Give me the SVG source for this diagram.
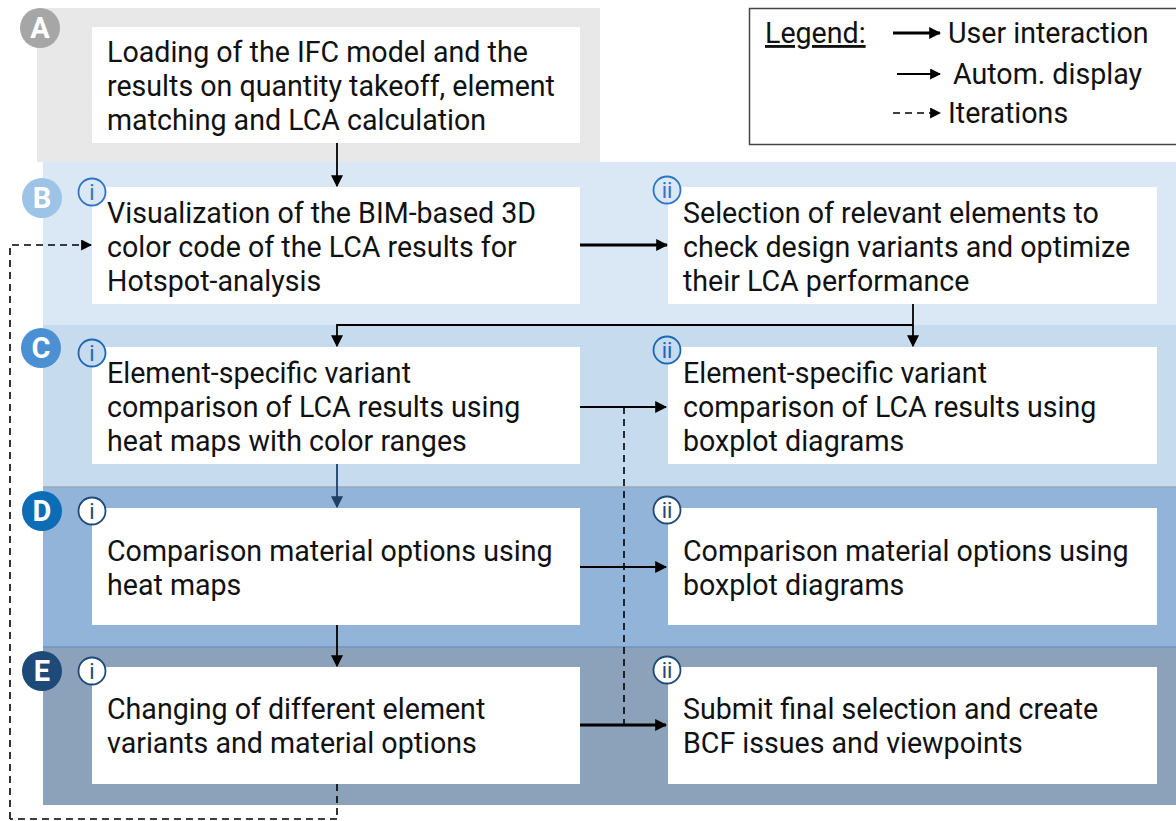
<svg xmlns="http://www.w3.org/2000/svg" width="1176" height="821" viewBox="0 0 1176 821">
<defs>
<style>
.t{font-family:Roboto,"Liberation Sans",sans-serif;font-size:28.6px;fill:#111}
.box{fill:#fff}
.lbl{font-family:Roboto,"Liberation Sans",sans-serif;font-size:29px;font-weight:bold;fill:#fff;text-anchor:middle}
.ic{font-family:Roboto,"Liberation Sans",sans-serif;font-size:22px;text-anchor:middle}
.thick{stroke:#000;stroke-width:3;fill:none}
.thin{stroke:#000;stroke-width:1.8;fill:none}
.dash{stroke:#000;stroke-width:1.6;fill:none;stroke-dasharray:7,5}
</style>
<marker id="ah" viewBox="0 0 10 10" refX="9" refY="5" markerWidth="12" markerHeight="12" markerUnits="userSpaceOnUse" orient="auto"><path d="M0,0L10,5L0,10z" fill="#000"/></marker>
<marker id="ahs" viewBox="0 0 10 10" refX="9" refY="5" markerWidth="11" markerHeight="11" markerUnits="userSpaceOnUse" orient="auto"><path d="M0,0L10,5L0,10z" fill="#000"/></marker>
<marker id="ahn" viewBox="0 0 10 10" refX="9" refY="5" markerWidth="12" markerHeight="12" markerUnits="userSpaceOnUse" orient="auto"><path d="M0,0L10,5L0,10z" fill="#1f3f66"/></marker>
</defs>
<rect width="1176" height="821" fill="#fff"/>

<g id="bands">
<rect x="37" y="8" width="563" height="154" fill="#e8e8e8"/>
<rect x="43" y="162" width="1133" height="163" fill="#dae7f5"/>
<rect x="43" y="325" width="1133" height="162" fill="#c7dbee"/>
<rect x="43" y="487" width="1133" height="160" fill="#92b4d8"/>
<line x1="43" y1="487" x2="1176" y2="487" stroke="#9aa9b8" stroke-width="1.5"/>
<rect x="43" y="647" width="1133" height="158" fill="#8ba2ba"/>
<line x1="43" y1="647" x2="1176" y2="647" stroke="#6f95c0" stroke-width="1.5"/>
</g>

<g id="legend">
<rect x="749.5" y="8.5" width="440" height="136" fill="#fff" stroke="#444" stroke-width="1.5"/>
<text x="765" y="43" class="t" text-decoration="underline">Legend:</text>
<line x1="893" y1="33" x2="940" y2="33" class="thick" marker-end="url(#ah)"/>
<text x="948" y="43" class="t">User interaction</text>
<line x1="897" y1="74" x2="940" y2="74" class="thin" marker-end="url(#ahs)"/>
<text x="953" y="84" class="t">Autom. display</text>
<line x1="893" y1="113" x2="940" y2="113" class="dash" stroke-width="1.8" stroke-dasharray="6,5" marker-end="url(#ahs)"/>
<text x="948" y="123" class="t">Iterations</text>
</g>

<g id="labels">
<circle cx="40" cy="28" r="20" fill="#a6a6a6"/><text x="40" y="38" class="lbl">A</text>
<circle cx="42" cy="198" r="20" fill="#9dc3e6"/><text x="42" y="208" class="lbl">B</text>
<circle cx="41" cy="348" r="20" fill="#4a90d2"/><text x="41" y="358" class="lbl">C</text>
<circle cx="42" cy="511" r="20" fill="#0d6cb6"/><text x="42" y="521" class="lbl">D</text>
<circle cx="42" cy="671" r="20" fill="#1d4a78"/><text x="42" y="681" class="lbl">E</text>
</g>

<g id="nodeA">
<rect x="92" y="27" width="488" height="116" class="box"/>
<text class="t"><tspan x="107" y="62">Loading of the IFC model and the</tspan><tspan x="107" y="96">results on quantity takeoff, element</tspan><tspan x="107" y="130">matching and LCA calculation</tspan></text>
</g>

<g id="nodeBi">
<rect x="92" y="187" width="488" height="117" class="box"/>
<circle cx="92" cy="192" r="13.5" fill="#dae7f5" stroke="#2e75c6" stroke-width="1.8"/><text x="92" y="200" class="ic" fill="#2e75c6">i</text>
<text class="t"><tspan x="107" y="223">Visualization of the BIM-based 3D</tspan><tspan x="107" y="257">color code of the LCA results for</tspan><tspan x="107" y="291">Hotspot-analysis</tspan></text>
</g>

<g id="nodeBii">
<rect x="668" y="187" width="489" height="117" class="box"/>
<circle cx="667" cy="190" r="13.5" fill="#dae7f5" stroke="#2e75c6" stroke-width="1.8"/><text x="667" y="198" class="ic" fill="#2e75c6">ii</text>
<text class="t"><tspan x="683" y="223">Selection of relevant elements to</tspan><tspan x="683" y="257">check design variants and optimize</tspan><tspan x="683" y="291">their LCA performance</tspan></text>
</g>

<g id="nodeCi">
<rect x="92" y="347" width="488" height="117" class="box"/>
<circle cx="92" cy="353" r="13.5" fill="#c7dbee" stroke="#1a68b5" stroke-width="1.8"/><text x="92" y="361" class="ic" fill="#1a68b5">i</text>
<text class="t"><tspan x="107" y="383">Element-specific variant</tspan><tspan x="107" y="417">comparison of LCA results using</tspan><tspan x="107" y="451">heat maps with color ranges</tspan></text>
</g>

<g id="nodeCii">
<rect x="668" y="347" width="489" height="117" class="box"/>
<circle cx="667" cy="350" r="13.5" fill="#c7dbee" stroke="#1a68b5" stroke-width="1.8"/><text x="667" y="358" class="ic" fill="#1a68b5">ii</text>
<text class="t"><tspan x="683" y="383">Element-specific variant</tspan><tspan x="683" y="417">comparison of LCA results using</tspan><tspan x="683" y="451">boxplot diagrams</tspan></text>
</g>

<g id="nodeDi">
<rect x="92" y="508" width="488" height="117" class="box"/>
<circle cx="92" cy="511" r="13.5" fill="#fff" stroke="#1d4a78" stroke-width="1.8"/><text x="92" y="519" class="ic" fill="#1d4a78">i</text>
<text class="t"><tspan x="107" y="561">Comparison material options using</tspan><tspan x="107" y="595">heat maps</tspan></text>
</g>

<g id="nodeDii">
<rect x="668" y="508" width="489" height="117" class="box"/>
<circle cx="667" cy="510" r="13.5" fill="#fff" stroke="#1d4a78" stroke-width="1.8"/><text x="667" y="518" class="ic" fill="#1d4a78">ii</text>
<text class="t"><tspan x="683" y="561">Comparison material options using</tspan><tspan x="683" y="595">boxplot diagrams</tspan></text>
</g>

<g id="nodeEi">
<rect x="92" y="667" width="488" height="117" class="box"/>
<circle cx="92" cy="671" r="13.5" fill="#fff" stroke="#1d4a78" stroke-width="1.8"/><text x="92" y="679" class="ic" fill="#1d4a78">i</text>
<text class="t"><tspan x="107" y="719">Changing of different element</tspan><tspan x="107" y="753">variants and material options</tspan></text>
</g>

<g id="nodeEii">
<rect x="668" y="667" width="489" height="117" class="box"/>
<circle cx="667" cy="670" r="13.5" fill="#fff" stroke="#1d4a78" stroke-width="1.8"/><text x="667" y="678" class="ic" fill="#1d4a78">ii</text>
<text class="t"><tspan x="683" y="719">Submit final selection and create</tspan><tspan x="683" y="753">BCF issues and viewpoints</tspan></text>
</g>

<g id="connectors">
<line x1="337" y1="143" x2="337" y2="186" class="thin" stroke-width="2.2" marker-end="url(#ah)"/>
<line x1="580" y1="245" x2="667" y2="245" class="thick" marker-end="url(#ah)"/>
<path d="M913,304V346" class="thin" marker-end="url(#ah)"/>
<path d="M913,325H337V346" class="thin" marker-end="url(#ah)"/>
<line x1="580" y1="407" x2="666" y2="407" class="thin" marker-end="url(#ah)"/>
<path d="M624,407V725" class="dash"/>
<line x1="337" y1="464" x2="337" y2="507" stroke="#1f3f66" stroke-width="1.8" marker-end="url(#ahn)"/>
<line x1="580" y1="567" x2="666" y2="567" class="thin" marker-end="url(#ah)"/>
<line x1="337" y1="625" x2="337" y2="666" class="thin" stroke-width="2.2" marker-end="url(#ah)"/>
<line x1="580" y1="725" x2="666" y2="725" class="thick" marker-end="url(#ah)"/>
<path d="M337,784V820" class="dash"/>
<path d="M337,819H10" class="dash" stroke="#bbb"/>
<path d="M10,819V245H91" class="dash" marker-end="url(#ahs)"/>
</g>
</svg>
